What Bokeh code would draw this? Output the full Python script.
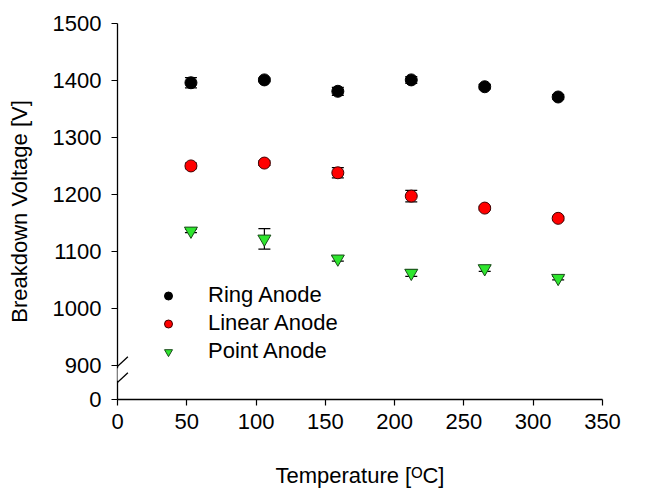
from bokeh.plotting import figure
from bokeh.models import (FixedTicker, Whisker, ColumnDataSource, Legend, LegendItem,
                          Arrow, PolyAnnotation, Range1d, TeeHead)
from bokeh.embed import file_html
from bokeh.resources import INLINE

# ---- data ----
temperature = [53, 106, 159, 212, 265, 318]
ring = [1396, 1401, 1381, 1401, 1389, 1371]
ring_err = [9, 3, 7, 6, 4, 4]
linear = [1250, 1255, 1238, 1197, 1176, 1158]
linear_err = [5, 4, 9, 10, 3, 3]
point = [1136, 1122, 1087, 1062, 1070, 1053]
point_err = [3, 18, 4, 6, 5, 3]

x_ticks = [0, 50, 100, 150, 200, 250, 300, 350]
y_ticks = [840, 900, 1000, 1100, 1200, 1300, 1400, 1500]
y_tick_labels = ["0", "900", "1000", "1100", "1200", "1300", "1400", "1500"]

x_title = "Temperature [ᴼC]"
y_title = "Breakdown Voltage [V]"

FONT = "Liberation Sans"
FS = "22px"

p = figure(width=654, height=490, output_backend="svg", toolbar_location=None,
           x_range=Range1d(0, 350), y_range=Range1d(840, 1500),
           min_border_left=117, min_border_right=52, min_border_top=23, min_border_bottom=90,
           x_axis_label=x_title, y_axis_label=y_title)
p.outline_line_color = None
p.xgrid.visible = False
p.ygrid.visible = False

for ax in (p.xaxis[0], p.yaxis[0]):
    ax.axis_line_color = "black"
    ax.axis_line_width = 1.3
    ax.major_tick_line_color = "black"
    ax.major_tick_line_width = 1.2
    ax.major_tick_in = 0
    ax.major_tick_out = 6
    ax.minor_tick_line_color = None
    ax.major_label_text_font = FONT
    ax.major_label_text_font_size = FS
    ax.major_label_text_color = "black"
    ax.axis_label_text_font = FONT
    ax.axis_label_text_font_size = FS
    ax.axis_label_text_font_style = "normal"
    ax.axis_label_text_color = "black"

p.xaxis.ticker = FixedTicker(ticks=x_ticks)
p.yaxis.ticker = FixedTicker(ticks=y_ticks)
p.yaxis.major_label_overrides = {t: s for t, s in zip(y_ticks, y_tick_labels)}
p.xaxis.major_label_standoff = 8
p.xaxis.axis_label_standoff = 31
p.yaxis.major_label_standoff = 10
p.yaxis.axis_label_standoff = 18

series = [
    ("Ring Anode", ring, ring_err, "circle", "black", "black"),
    ("Linear Anode", linear, linear_err, "circle", "#ff0000", "#400000"),
    ("Point Anode", point, point_err, "inverted_triangle", "#2ee62e", "#1a4a1a"),
]

items = []
for name, vals, errs, marker, fill, line in series:
    src = ColumnDataSource(dict(
        x=temperature, y=vals,
        upper=[v + e for v, e in zip(vals, errs)],
        lower=[v - e for v, e in zip(vals, errs)],
    ))
    w = Whisker(source=src, base="x", upper="upper", lower="lower",
                line_color="black", line_width=1.2,
                upper_head=TeeHead(size=12, line_color="black", line_width=1.2),
                lower_head=TeeHead(size=12, line_color="black", line_width=1.2))
    p.add_layout(w)
    size = 12 if marker == "circle" else 13
    r = p.scatter("x", "y", source=src, marker=marker, size=size,
                  fill_color=fill, line_color=line, line_width=1)
    items.append(LegendItem(label=name, renderers=[r]))

legend = Legend(items=items, location=(41, 35), glyph_width=20, glyph_height=25,
                spacing=2, label_standoff=30, padding=10,
                label_text_font=FONT, label_text_font_size=FS, label_text_color="black",
                border_line_color=None, background_fill_alpha=0)
p.add_layout(legend)

# axis break decoration on the y axis
gap = PolyAnnotation(xs=[-4, 4, 4, -4], ys=[873, 873, 895, 895],
                     fill_color="white", fill_alpha=1, line_color=None)
p.add_layout(gap)
for yc in (898, 870):
    p.add_layout(Arrow(end=None, x_start=-7.5, y_start=yc - 17, x_end=7.5, y_end=yc + 17,
                       line_color="black", line_width=1.3))

open("out.html", "w").write(file_html(p, INLINE))
